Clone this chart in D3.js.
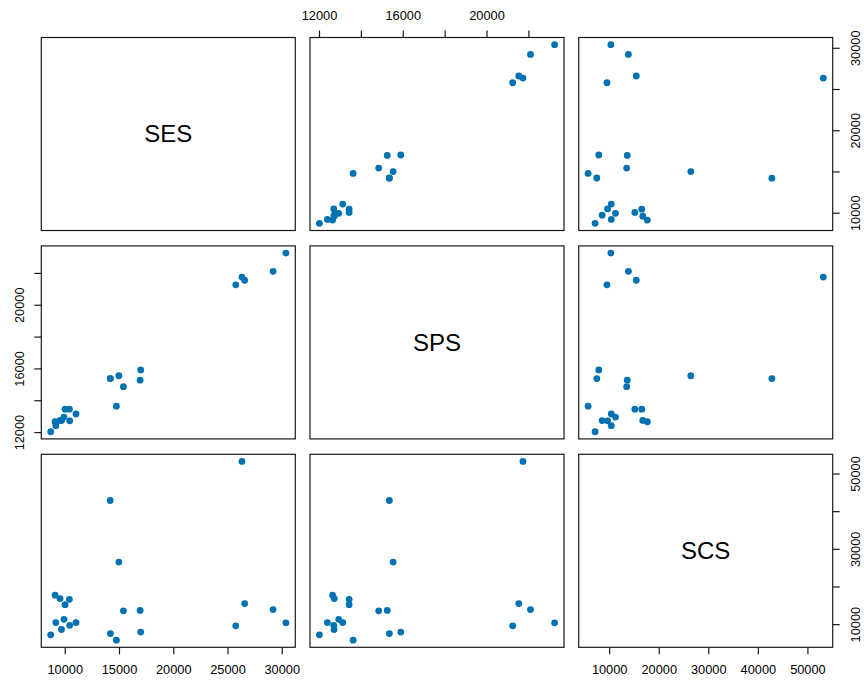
<!DOCTYPE html>
<html>
<head>
<meta charset="utf-8">
<script src="https://cdn.jsdelivr.net/npm/d3@7"></script>
<style>
  body { margin: 0; background: #fff; }
  text { font-family: "Liberation Sans", Arial, sans-serif; fill: #000; }
</style>
</head>
<body>
<svg id="chart" width="864" height="684"></svg>
<script>
// variable names, in panel order
const varNames = ["SES", "SPS", "SCS"];

const ses = [26330, 14190, 14990, 9110, 9570, 10430, 10030, 15410, 16950, 26580, 29200,
             30380, 25760, 9180, 9930, 10460, 11040, 9700, 8708, 14210, 14760, 17000];
const sps = [21740, 15360, 15540, 12650, 12730, 13440, 13440, 14850, 15260, 21540, 22100,
             23250, 21250, 12400, 12945, 12705, 13135, 12720, 12020, 15360, 13630, 15905];
const scs = [53200, 42830, 26470, 17700, 16780, 16580, 15180, 13530, 13650, 15470, 13880,
             10340, 9550, 10425, 11280, 9680, 10425, 8580, 7158, 7503, 5750, 7900];

// tick positions and which of them get a label
const sesTicks = [10000, 15000, 20000, 25000, 30000];
const spsTicks = [12000, 14000, 16000, 18000, 20000, 22000];
const scsTicks = [10000, 20000, 30000, 40000, 50000];
const sesLabelsSide = [10000, 20000, 30000];
const spsLabels = [12000, 16000, 20000];
const scsLabelsSide = [10000, 30000, 50000];

const columns = [ses, sps, scs];

const svg = d3.select("#chart");
const panelW = 254, panelH = 193;
const colX = [41.3, 310, 578.7];
const rowY = [37.5, 245.9, 454.3];
const dotColor = "#0072B2";

/* R style range: data extent padded by 4% on both ends */
function padded(values) {
  const [lo, hi] = d3.extent(values);
  const pad = (hi - lo) * 0.04;
  return [lo - pad, hi + pad];
}

const xScales = columns.map((v, j) => d3.scaleLinear().domain(padded(v)).range([colX[j], colX[j] + panelW]));
const yScales = columns.map((v, i) => d3.scaleLinear().domain(padded(v)).range([rowY[i] + panelH, rowY[i]]));

const fmt = d3.format("d");
const labelIf = list => d => list.includes(d) ? fmt(d) : "";

for (let i = 0; i < 3; i++) {
  for (let j = 0; j < 3; j++) {
    const g = svg.append("g").attr("class", `panel r${i} c${j}`);
    g.append("rect")
        .attr("x", colX[j])
        .attr("y", rowY[i])
        .attr("width", panelW)
        .attr("height", panelH)
        .attr("fill", "none")
        .attr("stroke", "#1a1a1a")
        .attr("stroke-width", 1.2);
    if (i === j) {
      g.append("text")
          .attr("x", colX[j] + panelW / 2)
          .attr("y", rowY[i] + panelH / 2)
          .attr("dy", "0.35em")
          .attr("text-anchor", "middle")
          .style("font-size", "24px")
          .text(varNames[i]);
      continue;
    }
    // x is column variable, y is row variable
    const xs = columns[j], ys = columns[i];
    g.selectAll("circle")
      .data(d3.range(xs.length))
      .enter().append("circle")
        .attr("cx", k => xScales[j](xs[k]))
        .attr("cy", k => yScales[i](ys[k]))
        .attr("r", 3.4)
        .attr("fill", dotColor);
  }
}

// axes drawn like pairs(): alternate sides
function styleAxis(g) {
  g.select(".domain").remove();
  g.selectAll("line").attr("stroke", "#1a1a1a").attr("stroke-width", 1.2);
  g.selectAll("text").style("font-size", "12.8px").attr("fill", "#000");
}

// bottom: SES (col 0), SCS (col 2)
svg.append("g")
    .attr("transform", `translate(0,${rowY[2] + panelH})`)
    .call(d3.axisBottom(xScales[0]).tickValues(sesTicks).tickSize(7).tickFormat(fmt))
    .call(styleAxis)
    .call(g => g.selectAll("text").attr("y", 22.7).attr("dy", "0.35em"));
svg.append("g")
    .attr("transform", `translate(0,${rowY[2] + panelH})`)
    .call(d3.axisBottom(xScales[2]).tickValues(scsTicks).tickSize(7).tickFormat(fmt))
    .call(styleAxis)
    .call(g => g.selectAll("text").attr("y", 22.7).attr("dy", "0.35em"));

// top: SPS (col 1)
svg.append("g")
    .attr("transform", `translate(0,${rowY[0]})`)
    .call(d3.axisTop(xScales[1]).tickValues(spsTicks).tickSize(7).tickFormat(labelIf(spsLabels)))
    .call(styleAxis)
    .call(g => g.selectAll("text").attr("y", -21.5).attr("dy", "0.35em"));

// right: SES (row 0), SCS (row 2)
const rotateLabels = off => g => g.selectAll("text")
    .attr("x", null)
    .attr("dy", "0.35em")
    .attr("text-anchor", "middle")
    .attr("transform", `translate(${off},0) rotate(-90)`);

svg.append("g")
    .attr("transform", `translate(${colX[2] + panelW},0)`)
    .call(d3.axisRight(yScales[0]).tickValues(sesTicks).tickSize(7).tickFormat(labelIf(sesLabelsSide)))
    .call(styleAxis)
    .call(rotateLabels(22.7));
svg.append("g")
    .attr("transform", `translate(${colX[2] + panelW},0)`)
    .call(d3.axisRight(yScales[2]).tickValues(scsTicks).tickSize(7).tickFormat(labelIf(scsLabelsSide)))
    .call(styleAxis)
    .call(rotateLabels(22.7));

// left: SPS (row 1)
svg.append("g")
    .attr("transform", `translate(${colX[0]},0)`)
    .call(d3.axisLeft(yScales[1]).tickValues(spsTicks).tickSize(7).tickFormat(labelIf(spsLabels)))
    .call(styleAxis)
    .call(rotateLabels(-21.3));
</script>
</body>
</html>
